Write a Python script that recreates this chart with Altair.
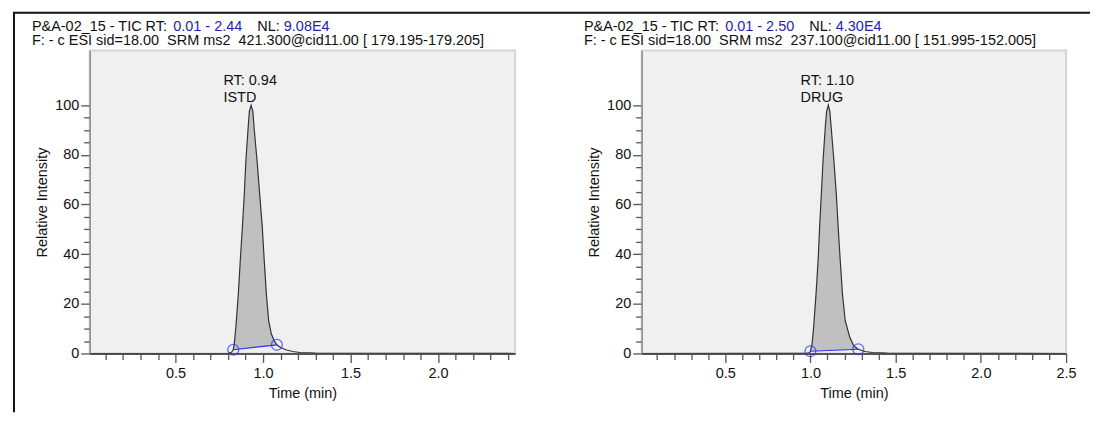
import altair as alt
import pandas as pd

FONT = "Liberation Sans"
FS = 14.5

# ---------------- data ----------------
istd_time = [0.01, 0.80, 0.82, 0.83, 0.836, 0.845, 0.859, 0.870, 0.882, 0.893, 0.902, 0.915, 0.922,
             0.932, 0.942, 0.949, 0.966, 0.981, 0.996, 1.007, 1.019, 1.032, 1.047, 1.065, 1.079,
             1.10, 1.13, 1.17, 1.21, 1.30, 1.50, 2.00, 2.44]
istd_int = [0.0, 0.1, 0.5, 1.5, 4.0, 10.6, 24.0, 37.3, 50.7, 64.1, 77.5, 90.9, 97.5,
            100.0, 97.5, 90.9, 77.5, 64.1, 50.7, 37.3, 24.0, 13.3, 7.9, 5.0, 3.5,
            2.4, 1.5, 0.8, 0.4, 0.15, 0.1, 0.1, 0.0]
istd_base_time = [0.83, 1.079]
istd_base_int = [1.5, 3.5]
istd_apex_time = [0.932]
istd_apex_int = [100.0]
istd_labels = ["RT: 0.94", "ISTD"]

drug_time = [0.01, 0.98, 0.995, 1.000, 1.010, 1.019, 1.033, 1.045, 1.054, 1.064, 1.074, 1.087, 1.095,
             1.105, 1.114, 1.122, 1.138, 1.152, 1.163, 1.175, 1.188, 1.204, 1.231, 1.255, 1.281,
             1.32, 1.363, 1.45, 1.60, 2.50]
drug_int = [0.0, 0.1, 0.4, 0.9, 4.0, 10.6, 24.0, 37.3, 50.7, 64.1, 77.5, 90.9, 97.5,
            100.0, 97.5, 90.9, 77.5, 64.1, 50.7, 37.3, 24.0, 13.3, 6.5, 3.0, 1.7,
            0.8, 0.4, 0.15, 0.05, 0.0]
drug_base_time = [1.000, 1.281]
drug_base_int = [0.9, 1.7]
drug_apex_time = [1.105]
drug_apex_int = [100.0]
drug_labels = ["RT: 1.10", "DRUG"]

istd_xdomain = [0.01, 2.44]
drug_xdomain = [0.01, 2.50]
y_domain = [0, 122]

istd_xticks = [0.1, 0.2, 0.3, 0.4, 0.5, 0.6, 0.7, 0.8, 0.9, 1.0, 1.1, 1.2, 1.3, 1.4, 1.5,
               1.6, 1.7, 1.8, 1.9, 2.0, 2.1, 2.2, 2.3, 2.4]
drug_xticks = [0.1, 0.2, 0.3, 0.4, 0.5, 0.6, 0.7, 0.8, 0.9, 1.0, 1.1, 1.2, 1.3, 1.4, 1.5,
               1.6, 1.7, 1.8, 1.9, 2.0, 2.1, 2.2, 2.3, 2.4, 2.5]
y_ticks = [0, 5, 10, 15, 20, 25, 30, 35, 40, 45, 50, 55, 60, 65, 70, 75, 80, 85, 90, 95, 100]

istd_header1 = ["P&A-02_15 - TIC RT:", "0.01 - 2.44", "NL:", "9.08E4"]
istd_header2 = "F: - c ESI sid=18.00\u00a0 SRM ms2\u00a0 421.300@cid11.00 [ 179.195-179.205]"
drug_header1 = ["P&A-02_15 - TIC RT:", "0.01 - 2.50", "NL:", "4.30E4"]
drug_header2 = "F: - c ESI sid=18.00\u00a0 SRM ms2\u00a0 237.100@cid11.00 [ 151.995-152.005]"

# ---------------- text metrics (Arial / Liberation Sans, per 1000 em) ----------------
AW = {' ': 278, '\u00a0': 278, '&': 667, '(': 333, ')': 333, '-': 333, '.': 278, ':': 278,
      '=': 584, '@': 1015, '_': 556, '[': 278, ']': 278,
      'A': 667, 'C': 722, 'D': 722, 'E': 667, 'F': 611, 'G': 778, 'I': 278, 'L': 556,
      'M': 833, 'N': 722, 'P': 667, 'R': 722, 'S': 667, 'T': 611, 'U': 722,
      'c': 500, 'd': 556, 'i': 222, 'm': 833, 'n': 556, 's': 500}
for _d in "0123456789":
    AW[_d] = 556


def tw(s, fs=FS):
    return sum(AW.get(c, 556) for c in s) * fs / 1000.0


BLACK = "#111111"
BLUE = "#1f1fa8"
MAJ = "abs(datum.value*2 - round(datum.value*2)) < 0.001"


def panel(t, v, bt, bv, at, av, labels, xdom, xticks, width, h1, h2, frame=False):
    df = pd.DataFrame({"t": t, "v": v})
    t0, t1 = bt
    b0, b1 = bv
    base_df = pd.DataFrame({"t": bt, "v": bv})
    apex_df = pd.DataFrame({"t": at, "v": av})

    xaxis = alt.Axis(
        values=xticks, title="Time (min)", grid=False,
        labelExpr=MAJ + " ? format(datum.value, '.1f') : ''",
        tickSize={"condition": {"test": MAJ, "value": 9}, "value": 6},
        tickColor="#555555", tickWidth=1.3, domainColor="#555555", domainWidth=2,
        labelFont=FONT, labelFontSize=FS, labelColor=BLACK, labelPadding=4,
        labelFlush=False, labelOverlap=False,
        titleFont=FONT, titleFontSize=FS, titleFontWeight="normal", titleColor=BLACK,
        titlePadding=7,
    )
    yaxis = alt.Axis(
        values=y_ticks, title="Relative Intensity", grid=False,
        labelExpr="datum.value % 20 == 0 ? datum.label : ''",
        tickSize={"condition": {"test": "datum.value % 20 == 0", "value": 9}, "value": 6},
        tickColor="#555555", tickWidth=1.3, domainColor="#8c8c8c", domainWidth=1.5,
        labelFont=FONT, labelFontSize=FS, labelColor=BLACK, labelPadding=2,
        labelFlush=False, labelOverlap=False,
        titleFont=FONT, titleFontSize=FS, titleFontWeight="normal", titleColor=BLACK,
        titlePadding=5,
    )
    X = alt.X("t:Q", scale=alt.Scale(domain=xdom, nice=False, zero=False), axis=xaxis)
    Y = alt.Y("v:Q", scale=alt.Scale(domain=y_domain, nice=False), axis=yaxis)

    area = alt.Chart(df).transform_filter(
        f"datum.t >= {t0} - 1e-9 && datum.t <= {t1} + 1e-9"
    ).transform_calculate(
        base=f"{b0} + ({b1} - {b0}) * (datum.t - {t0}) / ({t1} - {t0})"
    ).mark_area(color="#c0c0c0", clip=True).encode(x=X, y=Y, y2="base:Q")

    line = alt.Chart(df).mark_line(color="#333333", strokeWidth=1.2, clip=True).encode(x=X, y=Y)
    bline = alt.Chart(base_df).mark_line(color="#2f2fff", strokeWidth=1.2).encode(x=X, y=Y)
    circ = alt.Chart(base_df).mark_point(shape="circle", filled=False, color="#2f2fff",
                                         size=120, strokeWidth=1.3).encode(x=X, y=Y)
    dx = -tw(labels[0]) / 2
    ann1 = alt.Chart(apex_df).mark_text(align="left", baseline="alphabetic", dx=dx, dy=-20,
                                        font=FONT, fontSize=FS, color=BLACK).encode(
        x=X, y=Y, text=alt.value(labels[0]))
    ann2 = alt.Chart(apex_df).mark_text(align="left", baseline="alphabetic", dx=dx, dy=-3.5,
                                        font=FONT, fontSize=FS, color=BLACK).encode(
        x=X, y=Y, text=alt.value(labels[1]))

    one = pd.DataFrame({"k": [0]})
    x0 = -58
    xs = [x0]
    xs.append(x0 + tw(h1[0] + " "))
    xs.append(xs[1] + tw(h1[1]) + tw("   ") + 3)
    xs.append(xs[2] + tw(h1[2] + " "))
    cols = [BLACK, BLUE, BLACK, BLUE]
    heads = []
    for seg, xx, cc in zip(h1, xs, cols):
        heads.append(alt.Chart(one).mark_text(align="left", baseline="alphabetic", font=FONT,
                                              fontSize=FS, color=cc).encode(
            x=alt.value(xx), y=alt.value(-20), text=alt.value(seg)))
    heads.append(alt.Chart(one).mark_text(align="left", baseline="alphabetic", font=FONT,
                                          fontSize=FS, color=BLACK).encode(
        x=alt.value(x0), y=alt.value(-6), text=alt.value(h2)))

    layers = [area, line, bline, circ, ann1, ann2] + heads
    if frame:
        vrule = alt.Chart(one).mark_rule(color="#111111", strokeWidth=2).encode(
            x=alt.value(-76), y=alt.value(-38), y2=alt.value(363))
        hrule = alt.Chart(one).mark_rule(color="#111111", strokeWidth=2).encode(
            x=alt.value(-77), x2=alt.value(1004), y=alt.value(-38))
        layers += [vrule, hrule]
    return alt.layer(*layers).properties(width=width, height=304)


left = panel(istd_time, istd_int, istd_base_time, istd_base_int, istd_apex_time, istd_apex_int,
             istd_labels, istd_xdomain, istd_xticks, 427, istd_header1, istd_header2, frame=True)
right = panel(drug_time, drug_int, drug_base_time, drug_base_int, drug_apex_time, drug_apex_int,
              drug_labels, drug_xdomain, drug_xticks, 426, drug_header1, drug_header2)

chart = alt.hconcat(left, right, spacing=127, bounds="flush").properties(
    padding={"left": 3, "top": 2, "right": 0, "bottom": 0},
    background="white",
).configure_view(fill="#f0f0f0", stroke="#d4d4d4", strokeWidth=2)

chart.save("out.html", embed_options={"renderer": "svg", "actions": False})
